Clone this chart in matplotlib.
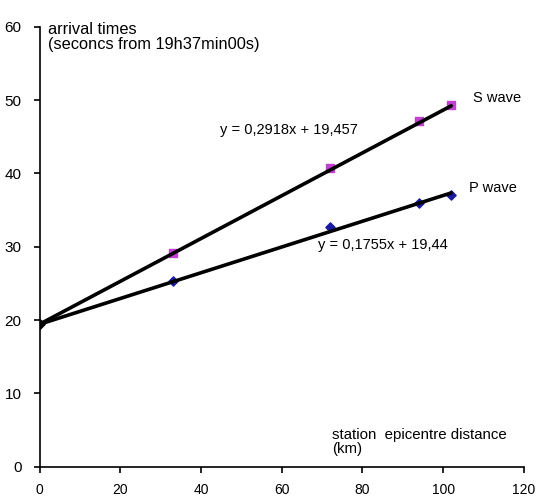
import numpy as np
import matplotlib
matplotlib.use("Agg")
import matplotlib.pyplot as plt

plt.rcParams['font.family'] = ['Liberation Sans', 'DejaVu Sans']

# Data
distance_km = [0, 33, 72, 94, 102]
s_wave = [19.5, 29.1, 40.8, 47.2, 49.3]
p_wave = [19.5, 25.3, 32.7, 36.0, 37.0]

s_fit = (0.2918, 19.457)
p_fit = (0.1755, 19.44)
s_eq = "y = 0,2918x + 19,457"
p_eq = "y = 0,1755x + 19,44"

x_ticks = [0, 20, 40, 60, 80, 100, 120]
y_ticks = [0, 10, 20, 30, 40, 50, 60]

fig = plt.figure(figsize=(5.39, 4.96), dpi=100)
ax = fig.add_axes([0.0738, 0.059, 0.898, 0.887])

x_arr = np.array(distance_km)
xl = np.array([x_arr.min(), x_arr.max()])
ax.plot(xl, s_fit[0] * xl + s_fit[1], color='black', lw=2.6, zorder=3, solid_capstyle='round')
ax.plot(xl, p_fit[0] * xl + p_fit[1], color='black', lw=2.6, zorder=3, solid_capstyle='round')

ax.scatter(distance_km[1:], s_wave[1:], marker='s', s=26, color='#c040d0', zorder=2)
ax.scatter(distance_km[1:], p_wave[1:], marker='D', s=22, color='#1a1aa0', zorder=2)
ax.scatter([distance_km[0]], [s_wave[0]], marker='D', s=22, color='black', zorder=4)

ax.set_xlim(0, 120)
ax.set_ylim(0, 60)
ax.set_xticks(x_ticks)
ax.set_yticks(y_ticks)
for sp in ['top', 'right']:
    ax.spines[sp].set_visible(False)
for sp in ['left', 'bottom']:
    ax.spines[sp].set_linewidth(1.2)
ax.tick_params(axis='y', direction='out', length=4, width=1.2, labelsize=11, pad=9)
ax.tick_params(axis='x', direction='out', length=4, width=1.2, labelsize=10, pad=8)

ax.text(2.0, 60.6, "arrival times\n(seconcs from 19h37min00s)", fontsize=11.8, va='top', ha='left', linespacing=1.0)
ax.text(107.5, 50.3, "S wave", fontsize=10.5, va='center', ha='left')
ax.text(106.5, 38.0, "P wave", fontsize=10.5, va='center', ha='left')
ax.text(44.7, 45.9, s_eq, fontsize=10.5, va='center', ha='left')
ax.text(69.0, 30.2, p_eq, fontsize=10.5, va='center', ha='left')
ax.text(72.5, 3.4, "station  epicentre distance\n(km)", fontsize=10.8, va='center', ha='left', linespacing=1.0)

fig.savefig("out.png", dpi=100)
